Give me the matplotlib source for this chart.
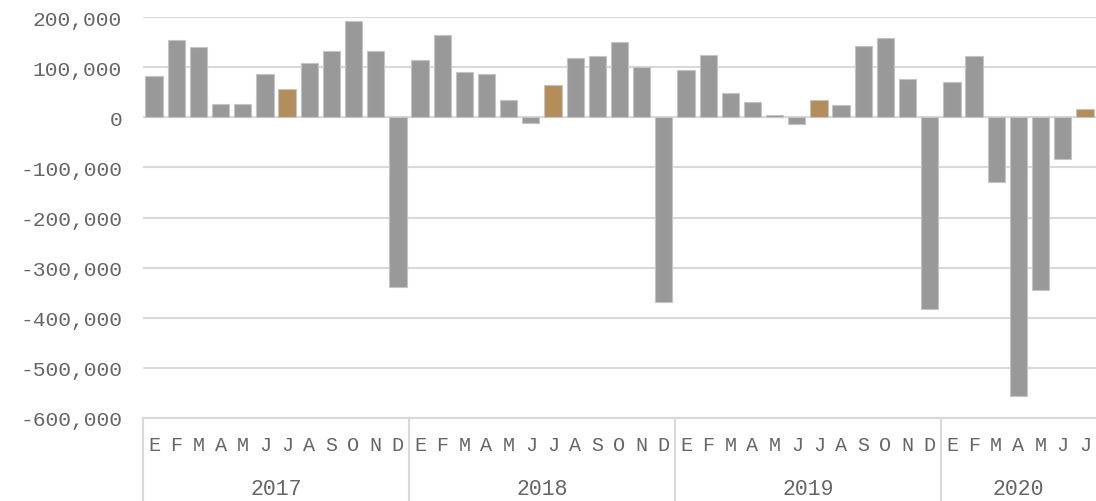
import matplotlib.pyplot as plt
from matplotlib.transforms import blended_transform_factory
from matplotlib.ticker import FuncFormatter

years = ["2017", "2018", "2019", "2020"]
months = ["E", "F", "M", "A", "M", "J", "J", "A", "S", "O", "N", "D"]
months_per_year = [12, 12, 12, 7]

values = [
    # 2017
    83000, 154000, 141000, 27000, 26000, 86000, 57000, 108000, 132000, 192000, 132000, -339000,
    # 2018
    114000, 165000, 91000, 87000, 34000, -12000, 65000, 119000, 123000, 151000, 101000, -369000,
    # 2019
    95000, 125000, 49000, 30000, 4000, -13000, 35000, 25000, 142000, 158000, 76000, -382000,
    # 2020
    70000, 122000, -129000, -557000, -344000, -83000, 17000,
]

grey = "#999999"
gold = "#b38e5a"
text_col = "#666666"
grid_col = "#d9d9d9"

plt.rcParams["font.family"] = ["Liberation Mono", "DejaVu Sans Mono"]

fig = plt.figure(figsize=(10.96, 5.02), dpi=100)
ax = fig.add_axes([143 / 1096, 83 / 502, 1 - 143 / 1096, 401 / 502])

labels = []
for n in months_per_year:
    labels += months[:n]
x = list(range(len(values)))
colors = [gold if m == 6 else grey for y, n in enumerate(months_per_year) for m in range(n)]

ax.bar(x, values, width=0.78, color=colors, edgecolor="#c4c4c4", linewidth=0.8, zorder=3)

ax.set_ylim(-600000, 200000)
ax.set_xlim(-0.5, len(values) - 0.5)
ax.set_yticks(range(-600000, 200001, 100000))
ax.yaxis.set_major_formatter(FuncFormatter(lambda v, p: f"{int(v):,}"))
ax.grid(axis="y", color=grid_col, linewidth=1.5, zorder=0)
ax.axhline(0, color=grid_col, linewidth=1.5, zorder=2)
for s in ax.spines.values():
    s.set_visible(False)

ax.set_xticks(x)
ax.set_xticklabels(labels)
ax.tick_params(axis="x", length=0, pad=12, labelsize=14.5, labelcolor=text_col)
ax.tick_params(axis="y", length=0, pad=15, labelsize=15.3, labelcolor=text_col)

# two-level category axis: top line, year separators, year labels
trans = blended_transform_factory(ax.transData, ax.transAxes)
ax.plot([-0.5, len(values) - 0.5], [0, 0], transform=trans, color=grid_col,
        linewidth=1.5, clip_on=False)
start = -0.5
for yr, n in zip(years, months_per_year):
    ax.plot([start, start], [0, -0.21], transform=trans, color=grid_col,
            linewidth=1.5, clip_on=False)
    ax.text(start + n / 2, -0.175, yr, transform=trans, ha="center", va="center",
            fontsize=15.5, color=text_col)
    start += n

fig.savefig("out.png", dpi=100)
